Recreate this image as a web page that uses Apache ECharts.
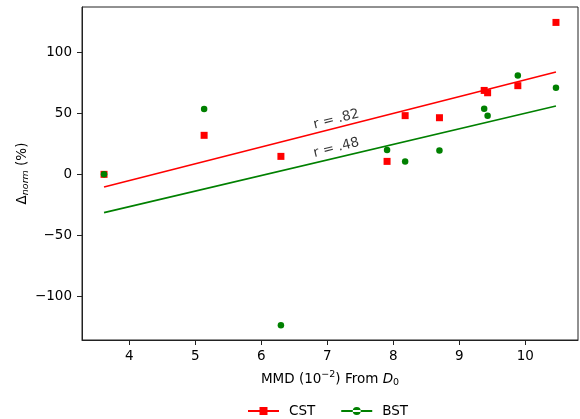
<!DOCTYPE html>
<html>
<head>
<meta charset="utf-8">
<script src="https://cdn.jsdelivr.net/npm/echarts@6/dist/echarts.min.js"></script>
<style>
  html, body { margin: 0; padding: 0; background: #fff; }
  #chart { width: 580px; height: 419px; }
</style>
</head>
<body>
<div id="chart"></div>
<script>
// MMD values (x) shared by both sets of measurements
const mmd = [3.616, 5.133, 6.297, 7.906, 8.18, 8.70, 9.378, 9.43, 9.888, 10.466];
const cstValues = [0, 31.9, 14.7, 10.6, 48.0, 46.3, 68.6, 66.7, 72.5, 124.2];
const bstValues = [0, 53.4, -123.4, 19.9, 10.6, 19.4, 53.7, 48.0, 80.9, 70.8];

// least-squares fit lines, end points
const cstFitX = [3.616, 10.466];
const cstFitY = [-10.4, 83.6];
const bstFitX = [3.616, 10.466];
const bstFitY = [-31.3, 55.8];

// correlation annotations
const noteText = ['r = .82', 'r = .48'];
const noteX = [7.137, 7.137];
const noteY = [44.9, 21.6];

const xTicks = [4, 5, 6, 7, 8, 9, 10];
const yTicks = [-100, -50, 0, 50, 100];

const FONT = 'DejaVu Sans';
const RED = '#ff0000';
const GREEN = '#008000';

const pairs = (xs, ys) => xs.map((x, i) => [x, ys[i]]);

const chart = echarts.init(document.getElementById('chart'), null, { renderer: 'canvas' });

const axisCommon = {
  type: 'value',
  splitLine: { show: false },
  axisLine: { show: true, onZero: false, lineStyle: { color: '#222', width: 1 } },
  axisTick: { show: true, inside: false, length: 5, lineStyle: { color: '#222', width: 1 } },
  axisLabel: { color: '#000', fontFamily: FONT, fontSize: 13.5 }
};

chart.setOption({
  animation: false,
  backgroundColor: '#fff',
  grid: {
    left: 82, top: 7, right: 2, bottom: 79,
    show: true, borderColor: '#222', borderWidth: 1, backgroundColor: 'transparent'
  },
  xAxis: Object.assign({}, axisCommon, {
    min: 3.282, max: 10.80,
    axisTick: Object.assign({}, axisCommon.axisTick, { customValues: xTicks }),
    axisLabel: Object.assign({}, axisCommon.axisLabel, { customValues: xTicks, margin: 9 }),
    name: '{t|MMD (10}{sup|\u22122}{t|) From }{it|D}{sub|0}',
    nameLocation: 'middle',
    nameGap: 30,
    nameMoveOverlap: false,
    nameTextStyle: {
      rich: {
        t: { fontFamily: FONT, fontSize: 13.5, color: '#000', lineHeight: 18 },
        sup: { fontFamily: FONT, fontSize: 9.5, color: '#000', verticalAlign: 'top', lineHeight: 14 },
        it: { fontFamily: FONT, fontSize: 13.5, fontStyle: 'italic', color: '#000', lineHeight: 18 },
        sub: { fontFamily: FONT, fontSize: 9.5, color: '#000', verticalAlign: 'bottom', lineHeight: 12 }
      }
    }
  }),
  yAxis: Object.assign({}, axisCommon, {
    min: -135.4, max: 136.8,
    axisTick: Object.assign({}, axisCommon.axisTick, { customValues: yTicks }),
    axisLabel: Object.assign({}, axisCommon.axisLabel, {
      customValues: yTicks, margin: 10,
      formatter: v => (v < 0 ? '\u2212' + Math.abs(v) : String(v))
    }),
    name: '{t|\u0394}{sub|norm}{t| (%)}',
    nameLocation: 'middle',
    nameGap: 51,
    nameRotate: 90,
    nameMoveOverlap: false,
    nameTextStyle: {
      rich: {
        t: { fontFamily: FONT, fontSize: 13.5, color: '#000', lineHeight: 18 },
        sub: { fontFamily: FONT, fontSize: 9.5, fontStyle: 'italic', color: '#000', verticalAlign: 'bottom', lineHeight: 12 }
      }
    }
  }),
  legend: {
    top: 399,
    left: 243,
    itemWidth: 31,
    itemHeight: 8,
    itemGap: 26,
    textStyle: { fontFamily: FONT, fontSize: 13.5, color: '#000', padding: [0, 0, 0, 5] },
    data: [
      { name: 'CST', icon: 'path://M0,3.1H31V4.9H0Z M11.5,0H19.5V8H11.5Z' },
      { name: 'BST', icon: 'path://M0,3.1H31V4.9H0Z M11.5,4A4,4 0 1,0 19.5,4A4,4 0 1,0 11.5,4Z' }
    ]
  },
  series: [
    {
      name: 'CST fit', type: 'line', silent: true,
      data: pairs(cstFitX, cstFitY),
      showSymbol: false, symbol: 'none',
      lineStyle: { color: RED, width: 1.6 }, z: 2
    },
    {
      name: 'BST fit', type: 'line', silent: true,
      data: pairs(bstFitX, bstFitY),
      showSymbol: false, symbol: 'none',
      lineStyle: { color: GREEN, width: 1.6 }, z: 2
    },
    {
      name: 'CST', type: 'scatter', silent: true,
      data: pairs(mmd, cstValues),
      symbol: 'rect', symbolSize: 7,
      itemStyle: { color: RED, opacity: 1 }, z: 3
    },
    {
      name: 'BST', type: 'scatter', silent: true,
      data: pairs(mmd, bstValues),
      symbol: 'circle', symbolSize: 6.5,
      itemStyle: { color: GREEN, opacity: 1 }, z: 4
    },
    {
      name: 'notes', type: 'scatter', silent: true,
      symbol: 'circle', symbolSize: 1,
      itemStyle: { color: 'rgba(0,0,0,0)' },
      data: noteText.map((t, i) => ({ value: [noteX[i], noteY[i]], label: { formatter: t } })),
      label: {
        show: true, position: 'inside', rotate: 14,
        fontFamily: FONT, fontSize: 13.5, color: '#000'
      },
      z: 5
    }
  ]
});
</script>
</body>
</html>
